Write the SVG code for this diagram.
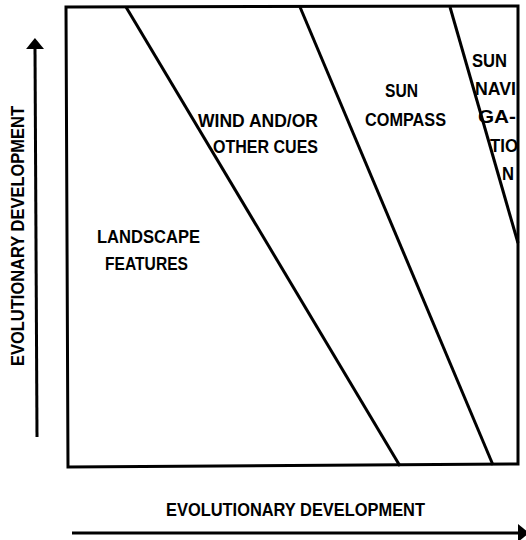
<svg xmlns="http://www.w3.org/2000/svg" width="526" height="540" viewBox="0 0 526 540">
  <defs>
    <style>
      .frame { fill: none; stroke: #000; stroke-width: 3; stroke-linejoin: miter; }
      .edge { fill: none; stroke: #000; stroke-width: 3; stroke-linecap: butt; }
      .lbl { font-family: "Liberation Sans", Arial, sans-serif; font-weight: bold; font-size: 18px; fill: #000; }
    </style>
    <marker id="head" viewBox="0 0 11 18" refX="1" refY="9" markerWidth="11" markerHeight="18" markerUnits="userSpaceOnUse" orient="auto">
      <path d="M0,0 L11,9 L0,18 Z" fill="#000"/>
    </marker>
  </defs>
  <rect width="526" height="540" fill="#fff"/>

  <g id="frame">
    <path class="frame" d="M66,7 L518,6 L518,464 L68,467 Z"/>
  </g>

  <g id="connectors">
    <line class="edge" x1="126" y1="7" x2="400" y2="466"/>
    <line class="edge" x1="300" y1="7" x2="493" y2="465"/>
    <line class="edge" x1="450" y1="7" x2="518" y2="243"/>
    <line class="edge" x1="37" y1="437" x2="35" y2="48" marker-end="url(#head)"/>
    <line class="edge" x1="72" y1="533" x2="519" y2="533" marker-end="url(#head)"/>
  </g>

  <g id="landscape">
    <text class="lbl" x="97" y="243" textLength="103" lengthAdjust="spacingAndGlyphs">LANDSCAPE</text>
    <text class="lbl" x="105" y="270" textLength="83" lengthAdjust="spacingAndGlyphs">FEATURES</text>
  </g>

  <g id="wind">
    <text class="lbl" x="198" y="127" textLength="120" lengthAdjust="spacingAndGlyphs">WIND AND/OR</text>
    <text class="lbl" x="213" y="153" textLength="105" lengthAdjust="spacingAndGlyphs">OTHER CUES</text>
  </g>

  <g id="sun-compass">
    <text class="lbl" x="385" y="97" textLength="33" lengthAdjust="spacingAndGlyphs">SUN</text>
    <text class="lbl" x="365" y="126" textLength="81" lengthAdjust="spacingAndGlyphs">COMPASS</text>
  </g>

  <g id="sun-navigation">
    <text class="lbl" x="472" y="67" textLength="35" lengthAdjust="spacingAndGlyphs">SUN</text>
    <text class="lbl" x="475" y="95" textLength="41" lengthAdjust="spacingAndGlyphs">NAVI</text>
    <text class="lbl" x="478" y="123" textLength="38" lengthAdjust="spacingAndGlyphs">GA-</text>
    <text class="lbl" x="490" y="152" textLength="28" lengthAdjust="spacingAndGlyphs">TIO</text>
    <text class="lbl" x="502" y="180" textLength="12" lengthAdjust="spacingAndGlyphs">N</text>
  </g>

  <g id="y-axis-label">
    <text class="lbl" transform="translate(24,236) rotate(-90)" x="0" y="0" text-anchor="middle" textLength="260" lengthAdjust="spacingAndGlyphs">EVOLUTIONARY DEVELOPMENT</text>
  </g>

  <g id="x-axis-label">
    <text class="lbl" x="166" y="516" textLength="259" lengthAdjust="spacingAndGlyphs">EVOLUTIONARY DEVELOPMENT</text>
  </g>
</svg>
